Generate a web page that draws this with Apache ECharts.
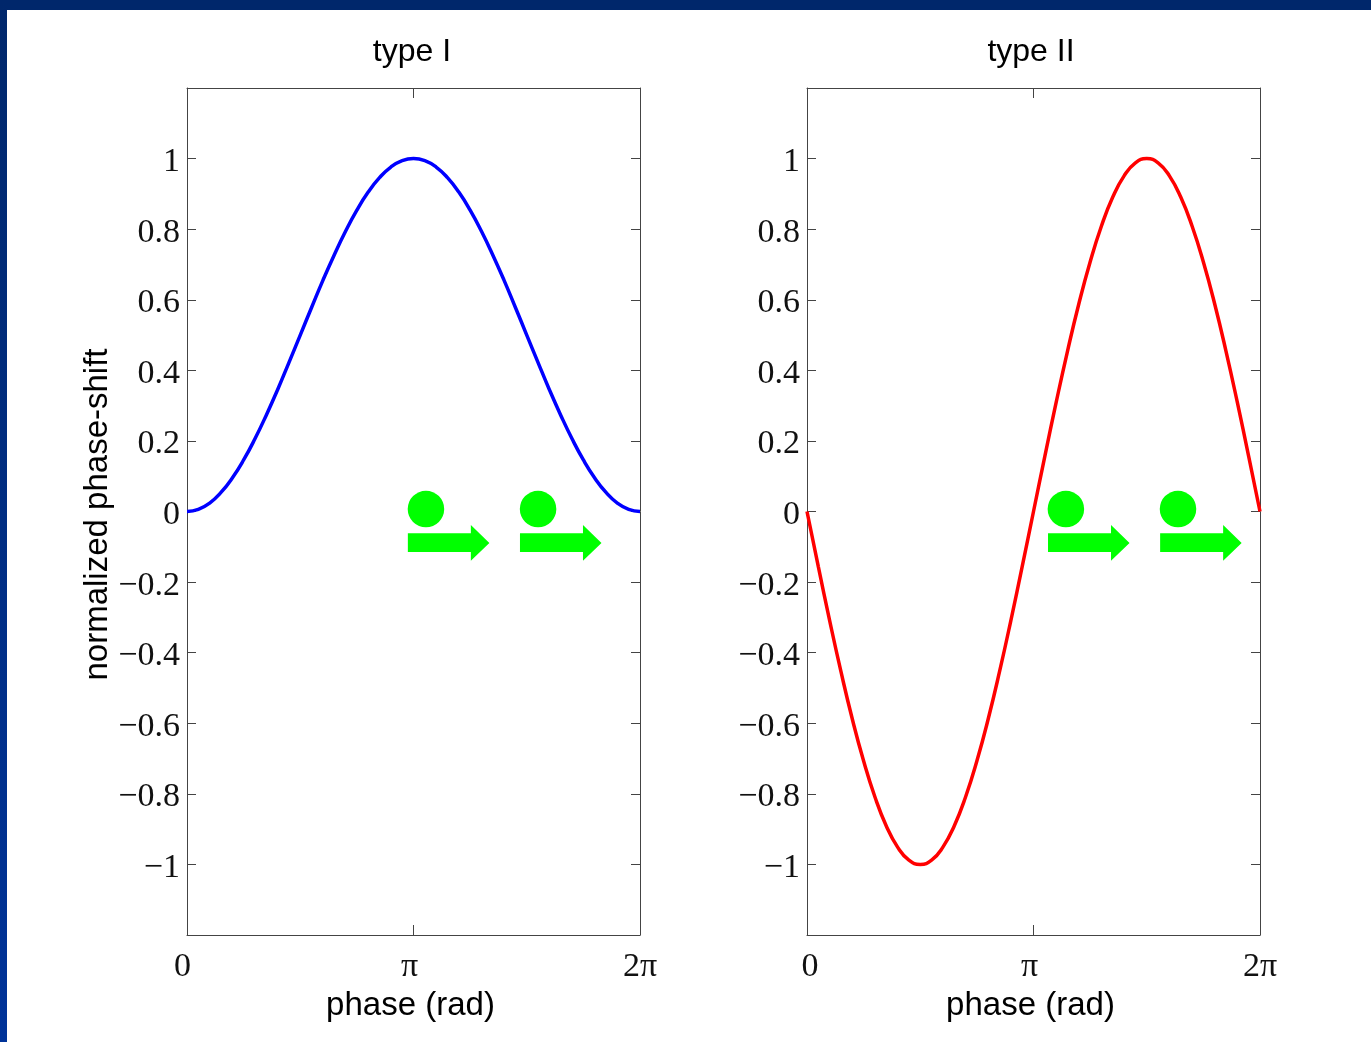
<!DOCTYPE html>
<html><head><meta charset="utf-8">
<style>html,body{margin:0;padding:0;background:#fff}#c{width:1371px;height:1042px}</style>
<script src="https://cdn.jsdelivr.net/npm/echarts@6/dist/echarts.min.js"></script>
</head><body><div id="c"></div>
<script>
const phase = [0,0.05,0.1,0.15,0.2,0.25,0.3,0.35,0.4,0.45,0.5,0.55,0.6,0.65,0.7,0.75,0.8,0.85,0.9,0.95,1,1.05,1.1,1.15,1.2,1.25,1.3,1.35,1.4,1.45,1.5,1.55,1.6,1.65,1.7,1.75,1.8,1.85,1.9,1.95,2];
const typeI = [0,0.006,0.024,0.054,0.095,0.146,0.206,0.273,0.345,0.422,0.5,0.578,0.655,0.727,0.794,0.854,0.905,0.946,0.976,0.994,1,0.994,0.976,0.946,0.905,0.854,0.794,0.727,0.655,0.578,0.5,0.422,0.345,0.273,0.206,0.146,0.095,0.054,0.024,0.006,0];
const typeII = [0,-0.156,-0.309,-0.454,-0.588,-0.707,-0.809,-0.891,-0.951,-0.988,-1,-0.988,-0.951,-0.891,-0.809,-0.707,-0.588,-0.454,-0.309,-0.156,0,0.156,0.309,0.454,0.588,0.707,0.809,0.891,0.951,0.988,1,0.988,0.951,0.891,0.809,0.707,0.588,0.454,0.309,0.156,0];
const titles = ['type I','type II'];
const yTicks = [-1,-0.8,-0.6,-0.4,-0.2,0,0.2,0.4,0.6,0.8,1];
const xTickLabels = ['0','π','2π'];
const circlesI = [[1.055,0.007],[1.55,0.007]];
const arrowsI = [[1.155,-0.089],[1.65,-0.089]];
const circlesII = [[1.143,0.007],[1.638,0.007]];
const arrowsII = [[1.244,-0.089],[1.739,-0.089]];

const ARROW = 'path://M0 8.3H63V0L81.5 18 63 35.7V27H0Z';
const grids = [{left:187,top:88,width:453,height:847},{left:807,top:88,width:453,height:847}];
const boxColor = '#444';
const serif = '"Liberation Serif"', sans = '"Liberation Sans"';
const lineStyle = {color:boxColor,width:1};

function xPair(i, pad){
  const rich = {};
  xTickLabels.forEach((t,k)=>{rich['l'+k]={fontFamily:serif,fontSize:34,color:'#111',padding:pad[k]};});
  const base = {type:'value',gridIndex:i,min:0,max:2,interval:1,
    axisLine:{show:true,onZero:false,lineStyle},axisTick:{show:true,inside:true,length:10,lineStyle},splitLine:{show:false}};
  return [
    Object.assign({},base,{position:'bottom',name:'phase (rad)',nameLocation:'middle',nameGap:54,
      nameTextStyle:{fontFamily:sans,fontSize:33,color:'#000',padding:[0,6,0,0]},
      axisLabel:{show:true,margin:15,formatter:v=>'{l'+v+'|'+xTickLabels[v]+'}',rich,hideOverlap:false,showMinLabel:true,showMaxLabel:true}}),
    Object.assign({},base,{position:'top',axisLabel:{show:false}})
  ];
}
function yPair(i){
  const base = {type:'value',gridIndex:i,min:-1.2,max:1.2,interval:0.2,
    axisLine:{show:true,onZero:false,lineStyle},splitLine:{show:false},
    axisTick:{show:true,inside:true,length:9,lineStyle,
      customValues:yTicks}};
  const left = Object.assign({},base,{position:'left',
    axisLabel:{show:true,margin:7,customValues:yTicks,
      rich:{t:{fontFamily:serif,fontSize:34,color:'#111',padding:[7,0,0,0]}},
      formatter:v=>'{t|'+String(v).replace('-','\u2212')+'}'}});
  if(i===0){Object.assign(left,{name:'normalized phase-shift',nameLocation:'middle',nameGap:69,nameRotate:90,
    nameTextStyle:{fontFamily:sans,fontSize:33,color:'#000',padding:[0,6,0,0]}});}
  return [left,Object.assign({},base,{position:'right',axisLabel:{show:false}})];
}
function zip(xs,ys){return xs.map((x,i)=>[x,ys[i]]);}
function panel(i,ys,color,circles,arrows){
  const idx=i*2;
  return [
    {type:'line',xAxisIndex:idx,yAxisIndex:idx,data:zip(phase,ys),smooth:true,showSymbol:false,symbol:'none',clip:true,
      lineStyle:{color,width:3.5},z:3},
    {type:'scatter',xAxisIndex:idx,yAxisIndex:idx,data:circles,symbol:'circle',symbolSize:36.5,
      itemStyle:{color:'#00ff00',opacity:1},z:4},
    {type:'scatter',xAxisIndex:idx,yAxisIndex:idx,data:arrows,symbol:ARROW,symbolKeepAspect:false,symbolSize:[81.5,35.7],
      itemStyle:{color:'#00ff00',opacity:1},z:4}
  ];
}
const chart = echarts.init(document.getElementById('c'),null,{renderer:'canvas'});
chart.setOption({
  animation:false,
  backgroundColor:'#fff',
  graphic:[
    {type:'rect',shape:{x:0,y:0,width:1371,height:10},z:100,silent:true,style:{fill:'#00276b'}},
    {type:'rect',shape:{x:0,y:0,width:7,height:1042},z:100,silent:true,
      style:{fill:new echarts.graphic.LinearGradient(0,0,0,1,[{offset:0,color:'#00276b'},{offset:1,color:'#003399'}])}}
  ],
  title:titles.map((t,i)=>({text:t,left:[412,1031][i],top:36,padding:0,textAlign:'center',
    textStyle:{fontFamily:sans,fontSize:32,fontWeight:'normal',color:'#000'}})),
  grid:grids,
  xAxis:[...xPair(0,[[0,9,0,0],[0,8,0,0],[0,0,0,0]]),...xPair(1,[[0,0,0,6],[0,8,0,0],[0,0,0,0]])],
  yAxis:[...yPair(0),...yPair(1)],
  series:[...panel(0,typeI,'#0000ff',circlesI,arrowsI),...panel(1,typeII,'#ff0000',circlesII,arrowsII)]
});
</script></body></html>
